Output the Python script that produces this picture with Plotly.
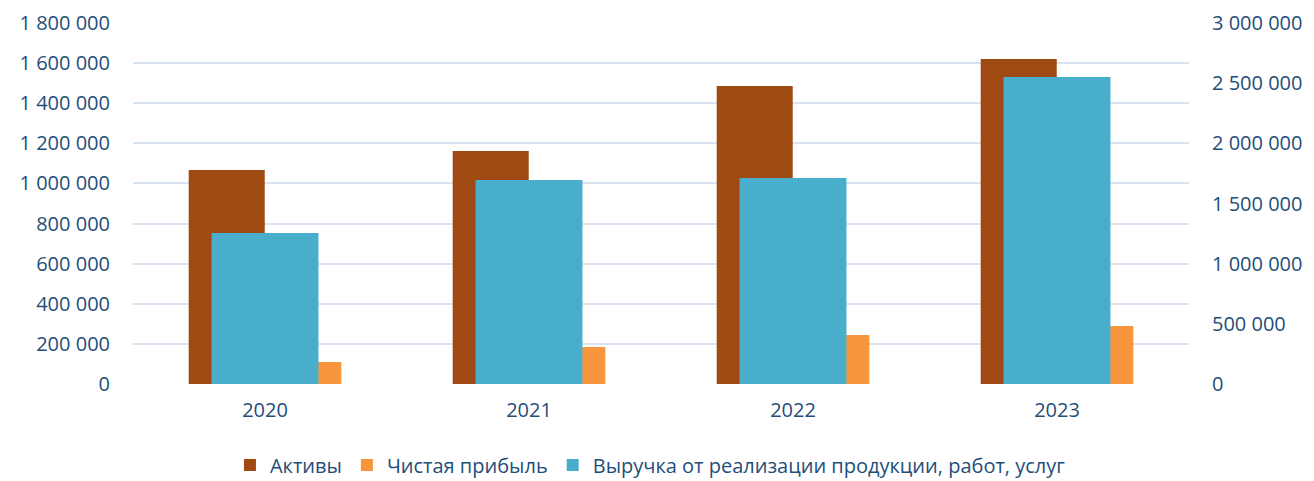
import plotly.graph_objects as go

years = ["2020", "2021", "2022", "2023"]
assets = [1067000, 1162000, 1486000, 1620000]
net_profit = [110000, 184000, 244000, 289000]
revenue = [1255000, 1695000, 1712000, 2551000]

name_assets = "Активы"
name_profit = "Чистая прибыль"
name_revenue = "Выручка от реализации продукции, работ, услуг"

left_ticks = list(range(0, 1800001, 200000))
right_ticks = list(range(0, 3000001, 500000))

FONT = "Open Sans"
TXT = "#1F4E79"
GRID = "#D9E3F1"
FS = 20

fig = go.Figure()
fig.add_trace(go.Bar(
    x=years, y=assets, name=name_assets,
    marker=dict(color="#9E4A12", line=dict(width=0)),
    width=0.288, offset=-0.289, yaxis="y",
))
fig.add_trace(go.Bar(
    x=years, y=net_profit, name=name_profit,
    marker=dict(color="#F8963D", line=dict(width=0)),
    width=0.288, offset=0.001, yaxis="y",
))
fig.add_trace(go.Bar(
    x=years, y=revenue, name=name_revenue,
    marker=dict(color="#48AECC", line=dict(width=0)),
    width=0.405, offset=-0.2025, yaxis="y2",
))

# the page body has an 8px default margin, so the figure is drawn at (8, 8)
fig.update_layout(
    width=1306, height=473,
    margin=dict(l=125, r=125, t=15, b=97, autoexpand=False),
    barmode="overlay",
    plot_bgcolor="white", paper_bgcolor="white",
    separators=", ",
    font=dict(family=FONT, size=FS, color=TXT),
    xaxis=dict(
        type="category", showgrid=False, zeroline=False, showline=False,
        ticks="", tickfont=dict(size=FS, color=TXT), ticklabelstandoff=12,
        automargin=False,
    ),
    yaxis=dict(
        range=[0, 1800000], tickvals=left_ticks, tickformat=",d",
        showgrid=True, gridcolor=GRID, gridwidth=1.5,
        zeroline=False, showline=False, ticks="",
        ticklabelstandoff=22, tickfont=dict(size=FS, color=TXT),
        automargin=False,
    ),
    yaxis2=dict(
        range=[0, 3000000], tickvals=right_ticks, tickformat=",d",
        overlaying="y", side="right", showgrid=False,
        zeroline=False, showline=False, ticks="",
        ticklabelstandoff=22, tickfont=dict(size=FS, color=TXT),
        automargin=False,
    ),
    legend=dict(
        orientation="h", x=0.49, xanchor="center",
        yref="container", y=0.075, yanchor="top",
        font=dict(size=FS, color=TXT), traceorder="normal",
        itemwidth=30,
    ),
    showlegend=True,
)

fig.write_html("out.html")
